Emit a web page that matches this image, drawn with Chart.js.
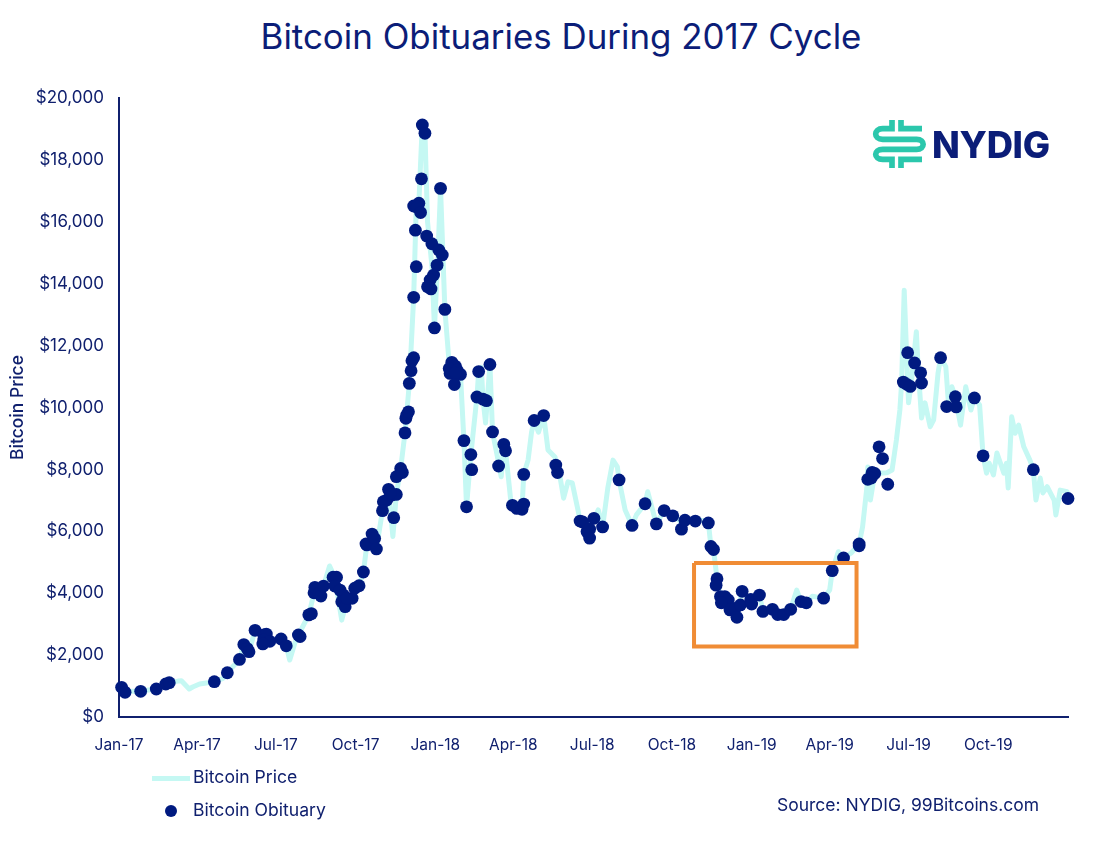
<!doctype html>
<html>
<head>
<meta charset="utf-8">
<title>Bitcoin Obituaries During 2017 Cycle</title>
<script src="https://cdn.jsdelivr.net/npm/chart.js@4/dist/chart.umd.js"></script>
<style>
  html,body{margin:0;background:#fff}
  body{width:1120px;height:850px;position:relative;overflow:hidden;font-family:Inter,"Noto Sans",sans-serif;color:#10206e}
  canvas{position:absolute;left:0;top:0}
  .txt{position:absolute;white-space:nowrap}
  #title{left:0;width:1122px;top:15px;text-align:center;font-size:34.9px;line-height:42px;color:#0b1d78}
  .leg{font-size:17.6px;line-height:22px;left:193px}
  #legLine{position:absolute;left:152px;top:776px;width:38px;height:5px;background:#c5f8f3}
  #legDot{position:absolute;left:165px;top:805px;width:12px;height:12px;border-radius:50%;background:#001a80}
  #source{left:777px;top:794px;font-size:17.5px;line-height:22px}
  #logo{left:932px;top:124px;font-size:36.4px;line-height:42px;font-weight:800;color:#0b1d78;letter-spacing:-.3px}
  svg{position:absolute;left:866px;top:116px}
</style>
</head>
<body>
<div class="txt" id="title">Bitcoin Obituaries During 2017 Cycle</div>
<canvas id="chart" width="1120" height="850"></canvas>
<svg width="60" height="56" viewBox="0 0 180 168" fill="none" stroke="#2bc7ac" stroke-width="17">
  <path d="M78 12V38H50C22 38 22 70 50 70H152C178 70 178 100 152 100H50C22 100 22 130 50 130H78V156"/>
  <path d="M105 12V38H168"/>
  <path d="M105 156V130H168"/>
</svg>
<div class="txt" id="logo">NYDIG</div>
<div id="legLine"></div>
<div class="txt leg" style="top:766px">Bitcoin Price</div>
<div id="legDot"></div>
<div class="txt leg" style="top:799px">Bitcoin Obituary</div>
<div class="txt" id="source">Source: NYDIG, 99Bitcoins.com</div>
<script>
// x is days since 1 Jan 2017
const xTickDays = [0, 90, 181, 273, 365, 455, 546, 638, 730, 820, 911, 1003];
const xTickLabels = ["Jan-17","Apr-17","Jul-17","Oct-17","Jan-18","Apr-18","Jul-18","Oct-18","Jan-19","Apr-19","Jul-19","Oct-19"];

const priceDays = [0,4,8,14,25,36,43,54,58,68,72,81,85,93,110,120,125,139,144,150,157,167,174,187,193,197,203,207,219,225,236,243,249,257,261,269,277,282,286,292,297,304,311,316,320,325,330,335,340,343,346,350,353,356,361,364,368,371,376,381,388,394,398,401,406,413,415,418,420,423,428,431,436,441,444,446,452,459,465,467,472,476,479,484,490,495,503,508,513,518,523,530,532,540,548,553,558,564,570,575,577,584,592,597,607,610,620,629,639,649,653,665,680,683,686,690,694,705,713,719,729,739,743,754,760,767,775,782,787,793,800,813,820,823,830,836,845,854,858,863,864,867,872,886,892,897,901,903,906,908,911,915,920,922,926,930,936,940,945,948,954,957,961,965,971,977,983,987,993,997,1001,1004,1009,1013,1021,1024,1026,1030,1034,1038,1044,1051,1055,1058,1063,1066,1071,1079,1081,1086,1094,1095];
const priceValues = [960,880,790,830,830,880,905,1066,1110,1160,1170,905,970,1066,1140,1250,1430,1860,2340,2110,2800,2650,2445,2520,2300,1840,2400,2650,3300,4000,4230,4880,4515,3130,3565,3835,4240,4685,5560,5910,5430,6665,7355,5830,7190,8030,9180,10780,13560,16500,16600,19200,18900,16000,14600,12570,14900,17080,13170,11400,11340,11070,8930,6790,8480,10340,11160,11300,10270,9500,11390,9210,8500,7760,8810,8600,7000,6740,6710,7840,8300,9200,9580,9200,9740,8630,8400,7900,7070,7600,7560,6630,6330,6100,6420,6690,6140,7400,8300,8080,7660,6690,6190,6530,6890,7280,6240,6670,6500,6300,6360,6400,6300,5510,5410,4470,3890,3460,3220,4060,3800,3940,3410,3480,3310,3310,3480,4100,3730,3690,3900,3840,4100,4730,5340,5140,5300,5590,6150,7440,8080,7010,7870,7890,7980,8950,9920,10790,13790,12290,10150,11000,12450,11320,9660,10150,9380,9600,11100,11610,11320,10150,10670,10350,9430,10670,9920,10310,10080,8440,7880,8200,7820,8530,7880,8200,7400,9700,9170,9430,8730,8300,7990,7010,7720,7240,7440,7010,6530,7330,7280,7060];

const obitDays = [3,7,25,43,54,58,110,125,139,144,148,150,157,167,170,167,174,166,187,193,207,209,219,222,225,226,231,233,236,247,251,249,255,259,257,261,269,263,272,277,282,285,286,292,295,297,304,305,311,309,315,320,313,317,320,325,327,330,331,332,334,335,337,338,340,340,343,342,340,346,344,348,349,350,353,355,361,369,371,373,367,363,359,356,360,376,364,384,388,381,382,390,394,388,387,398,406,407,401,415,428,413,420,424,431,438,444,446,454,459,465,467,467,479,490,504,506,532,535,548,540,543,543,558,577,592,607,620,629,639,649,653,665,680,683,686,690,689,694,699,703,695,705,711,717,713,719,729,730,739,743,754,760,767,775,787,793,813,823,836,854,854,864,869,872,868,877,881,887,905,910,909,913,918,925,926,948,965,955,966,987,997,1055,1095];
const obitValues = [960,800,830,905,1066,1108,1140,1430,1860,2340,2210,2110,2800,2650,2680,2490,2445,2360,2520,2300,2650,2600,3300,3340,4015,4190,4000,3910,4230,4515,4515,4230,4100,3940,3725,3565,3835,3835,4160,4240,4685,5590,5560,5910,5770,5430,6665,6955,7355,7010,7170,7190,7240,6440,7765,8030,7900,9180,9650,9760,9860,10780,11190,11510,11610,13560,14550,15730,16510,16600,16470,16300,17390,19130,18860,15540,15290,15090,17080,14930,14600,14280,14120,13900,13830,13170,12570,11460,11340,11260,11100,11210,11070,11110,10740,8930,8480,7990,6790,11160,11390,10340,10270,10220,9210,8110,8810,8600,6840,6740,6710,6880,7840,9580,9740,8140,7900,6330,6300,6420,5990,6070,5780,6140,7660,6190,6890,6240,6670,6500,6070,6360,6330,6270,5510,5410,4470,4260,3890,3890,3780,3690,3460,3510,3620,3220,4060,3800,3650,3940,3410,3480,3310,3310,3480,3730,3690,3840,4730,5140,5590,5530,7680,7900,7870,7720,8730,8350,7520,10820,11770,10750,10680,11440,11120,10790,11610,10350,10030,10020,10310,8440,7990,7060];

// orange highlight box around the 2018-19 bottom
const boxDays = [663.5, 851, 851, 663.5, 663.5];
const boxValues = [4975, 4975, 2280, 2280, 4975];

const NAVY = "#10206e";
const FONT = "Inter, 'Noto Sans', sans-serif";
const pairs = (xs, ys) => xs.map((x, i) => ({ x, y: ys[i] }));

new Chart(document.getElementById("chart"), {
  type: "scatter",
  data: {
    datasets: [
      { label: "Highlight", data: pairs(boxDays, boxValues), showLine: true, borderColor: "#f08c35", borderWidth: 4, pointRadius: 0, order: 0, clip: false, borderJoinStyle: "miter" },
      { label: "Bitcoin Obituary", data: pairs(obitDays, obitValues), backgroundColor: "#001a80", borderWidth: 0, pointRadius: 6.4, order: 1, clip: false },
      { label: "Bitcoin Price", data: pairs(priceDays, priceValues), showLine: true, borderColor: "#c5f8f3", borderWidth: 5, borderJoinStyle: "round", pointRadius: 0, order: 2, clip: false },
    ],
  },
  options: {
    responsive: false,
    animation: false,
    layout: { padding: { top: 98, right: 52, bottom: 0, left: 0 } },
    plugins: { legend: { display: false }, tooltip: { enabled: false } },
    scales: {
      x: {
        type: "linear",
        min: 0,
        max: 1095,
        grid: { display: false },
        border: { color: NAVY, width: 2 },
        afterBuildTicks: (s) => { s.ticks = xTickDays.map((value) => ({ value })); },
        afterFit: (s) => { s.height = 133; },
        ticks: {
          autoSkip: false,
          maxRotation: 0,
          padding: 11,
          color: NAVY,
          font: { family: FONT, size: 15.5 },
          callback: (v) => xTickLabels[xTickDays.indexOf(v)],
        },
      },
      y: {
        min: 0,
        max: 20000,
        grid: { display: false },
        border: { color: NAVY, width: 2 },
        afterFit: (s) => { s.width = 119; },
        title: { display: true, text: "Bitcoin Price", color: NAVY, font: { family: FONT, size: 17.5, weight: 500 }, padding: { top: 7, bottom: 0 } },
        ticks: {
          stepSize: 2000,
          padding: 7,
          color: NAVY,
          font: { family: FONT, size: 17 },
          callback: (v) => "$" + v.toLocaleString("en-US"),
        },
      },
    },
  },
});
</script>
</body>
</html>
